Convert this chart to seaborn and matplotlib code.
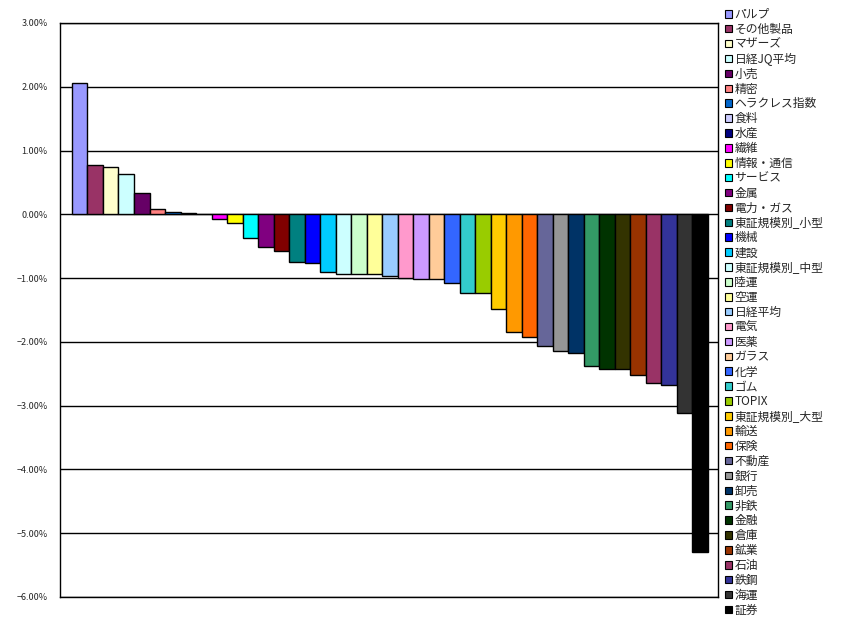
import matplotlib
matplotlib.use("Agg")
import matplotlib.pyplot as plt
import seaborn as sns
import pandas as pd
from matplotlib.patches import Patch
from matplotlib.ticker import FuncFormatter

categories = ["パルプ", "その他製品", "マザーズ", "日経JQ平均", "小売", "精密", "ヘラクレス指数",
              "食料", "水産", "繊維", "情報・通信", "サービス", "金属", "電力・ガス",
              "東証規模別_小型", "機械", "建設", "東証規模別_中型", "陸運", "空運", "日経平均",
              "電気", "医薬", "ガラス", "化学", "ゴム", "TOPIX", "東証規模別_大型", "輸送",
              "保険", "不動産", "銀行", "卸売", "非鉄", "金融", "倉庫", "鉱業", "石油",
              "鉄鋼", "海運", "証券"]
values = [2.06, 0.77, 0.75, 0.64, 0.34, 0.09, 0.03, 0.015, 0.005, -0.08, -0.14, -0.376,
          -0.52, -0.57, -0.75, -0.77, -0.91, -0.93, -0.93, -0.93, -0.96, -1.00, -1.02,
          -1.02, -1.07, -1.24, -1.24, -1.49, -1.84, -1.93, -2.06, -2.15, -2.17, -2.38,
          -2.42, -2.43, -2.52, -2.65, -2.68, -3.12, -5.29]
colors = ["#9999FF", "#993366", "#FFFFCC", "#CCFFFF", "#660066", "#FF8080", "#0066CC",
          "#CCCCFF", "#000080", "#FF00FF", "#FFFF00", "#00FFFF", "#800080", "#800000",
          "#008080", "#0000FF", "#00CCFF", "#CCFFFF", "#CCFFCC", "#FFFF99", "#99CCFF",
          "#FF99CC", "#CC99FF", "#FFCC99", "#3366FF", "#33CCCC", "#99CC00", "#FFCC00",
          "#FF9900", "#FF6600", "#666699", "#969696", "#003366", "#339966", "#003300",
          "#333300", "#993300", "#993366", "#333399", "#333333", "#000000"]
yticks = [3, 2, 1, 0, -1, -2, -3, -4, -5, -6]

sns.set_style("white")
plt.rcParams['font.family'] = ['Noto Sans CJK JP', 'DejaVu Sans']

df = pd.DataFrame({"cat": categories, "val": values})

fig = plt.figure(figsize=(8.45, 6.31), dpi=100)
ax = fig.add_axes([60 / 845, 1 - 597 / 631, 658 / 845, 574 / 631])

for y in yticks:
    ax.axhline(y, color="black", lw=1.0, zorder=0)

sns.barplot(data=df, x="cat", y="val", hue="cat", palette=colors, order=categories,
            hue_order=categories, dodge=False, width=1.0, edgecolor="black",
            linewidth=1.0, saturation=1, legend=False, ax=ax, zorder=2)

ax.set_xlim(-1.27, 41.15)
ax.set_ylim(-6, 3)
ax.set_yticks(yticks)
ax.yaxis.set_major_formatter(FuncFormatter(lambda v, p: f"{v:.2f}%".replace("-", "\u2212")))
ax.tick_params(axis="y", labelsize=6.5, length=0, pad=9)
ax.set_xticks([])
ax.set_xlabel("")
ax.set_ylabel("")
for s in ax.spines.values():
    s.set_visible(True)
    s.set_color("black")
    s.set_linewidth(1.0)

handles = [Patch(facecolor=c, edgecolor="black", linewidth=0.8) for c in colors]
fig.legend(handles, categories, loc="upper left", bbox_to_anchor=(725 / 845, 1 - 8 / 631),
           frameon=False, fontsize=8.5, handlelength=0.6, handleheight=0.6,
           handletextpad=0.2, labelspacing=0.16, borderpad=0, borderaxespad=0)

fig.savefig("out.png", dpi=100)
